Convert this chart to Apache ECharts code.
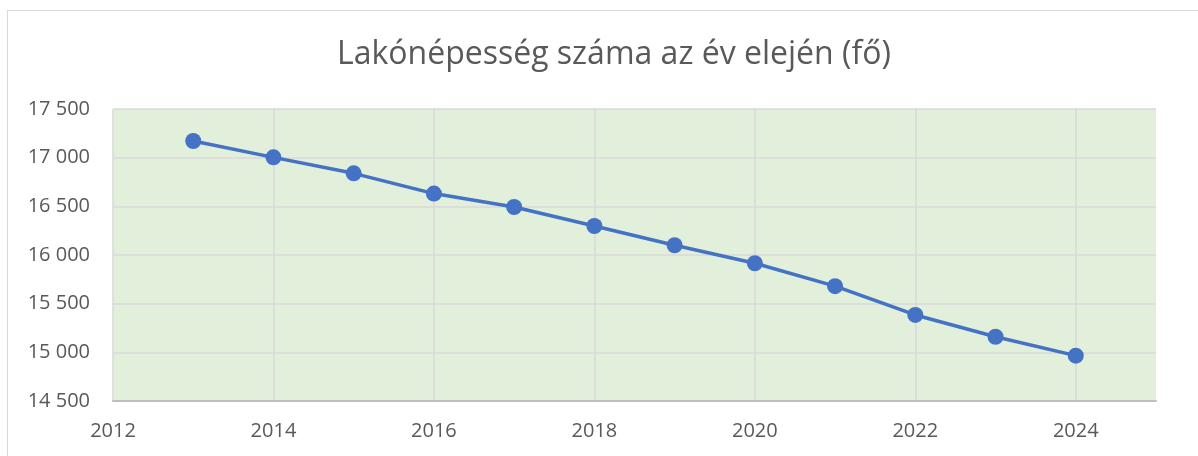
<!DOCTYPE html>
<html>
<head>
<meta charset="utf-8">
<script src="https://cdn.jsdelivr.net/npm/echarts@6/dist/echarts.min.js"></script>
<style>
  html, body { margin: 0; padding: 0; background: #fff; overflow: hidden; }
  #frame { position: absolute; left: 7px; top: 10px; width: 1200px; height: 460px; border: 1px solid #d9d9d9; }
  #chart { position: absolute; left: 0; top: 0; width: 1198px; height: 456px; }
</style>
</head>
<body>
<div id="frame"></div>
<div id="chart"></div>
<script>
// Lakónépesség az év elején
var years = [2013, 2014, 2015, 2016, 2017, 2018, 2019, 2020, 2021, 2022, 2023, 2024];
var population = [17171, 17003, 16839, 16631, 16493, 16298, 16100, 15915, 15680, 15384, 15160, 14966];
var titleText = "Lakónépesség száma az év elején (fő)";

var points = years.map(function (y, i) { return [y, population[i]]; });

function huNum(v) {
  // ezres elválasztó szóközzel
  return String(v).replace(/\B(?=(\d{3})+(?!\d))/g, " ");
}

var chart = echarts.init(document.getElementById("chart"));
chart.setOption({
  animation: false,
  title: {
    text: titleText,
    left: 332,
    top: 34,
    textStyle: { fontFamily: "Open Sans", fontSize: 32, fontWeight: "normal", color: "#595959" }
  },
  grid: {
    left: 113, top: 109, right: 42, bottom: 55,
    show: true, backgroundColor: "#e2efda", borderWidth: 0
  },
  xAxis: {
    type: "value",
    min: 2012, max: 2025, interval: 2,
    axisLine: { show: true, lineStyle: { color: "#bfbfbf", width: 2 } },
    axisTick: { show: false },
    axisLabel: {
      showMaxLabel: false,
      margin: 20,
      fontFamily: "Open Sans", fontSize: 20, color: "#595959",
      formatter: function (v) { return v === 2025 ? "" : String(v); }
    },
    splitLine: { show: true, showMaxLine: false, lineStyle: { color: "#d9d9d9", width: 1.5 } }
  },
  yAxis: {
    type: "value",
    min: 14500, max: 17500, interval: 500,
    axisLine: { show: false },
    axisTick: { show: false },
    axisLabel: {
      margin: 23,
      fontFamily: "Open Sans", fontSize: 20, color: "#595959",
      formatter: huNum
    },
    splitLine: { show: true, lineStyle: { color: "#d9d9d9", width: 1.5 } }
  },
  series: [{
    type: "line",
    data: points,
    symbol: "circle",
    symbolSize: 16,
    itemStyle: { color: "#4472c4" },
    lineStyle: { color: "#4472c4", width: 3.5 }
  }]
});
</script>
</body>
</html>
